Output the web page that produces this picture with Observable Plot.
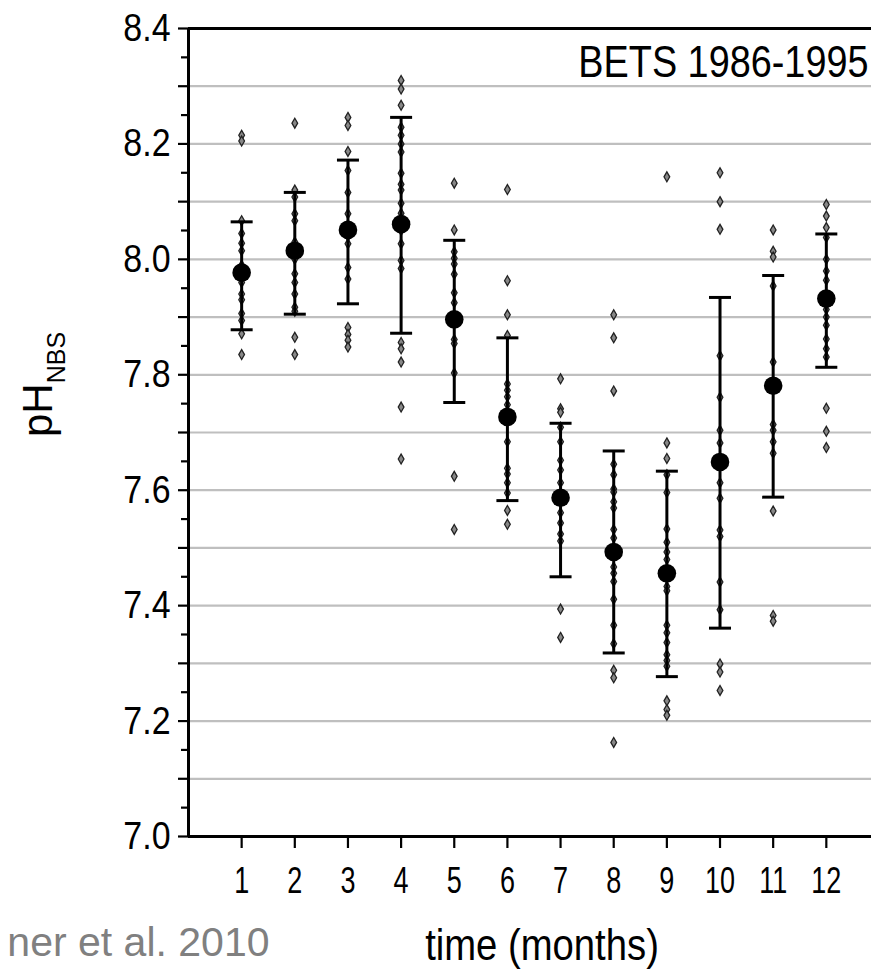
<!DOCTYPE html>
<html>
<head>
<meta charset="utf-8">
<script src="https://cdn.jsdelivr.net/npm/d3@7"></script>
<script src="https://cdn.jsdelivr.net/npm/@observablehq/plot@0.6"></script>
<style>
  html, body { margin: 0; padding: 0; background: #fff; }
  #chart svg { display: block; }
</style>
</head>
<body>
<div id="chart"></div>
<script>
// ---- data ----
const months = [1, 2, 3, 4, 5, 6, 7, 8, 9, 10, 11, 12];
const means = [7.977, 8.015, 8.051, 8.061, 7.896, 7.727, 7.587, 7.493, 7.456, 7.649, 7.781, 7.932];
const lows  = [7.878, 7.905, 7.923, 7.872, 7.752, 7.582, 7.450, 7.318, 7.277, 7.361, 7.588, 7.813];
const highs = [8.065, 8.116, 8.172, 8.246, 8.033, 7.864, 7.716, 7.668, 7.633, 7.934, 7.972, 8.044];

const pts1  = [8.215, 8.205, 8.067, 8.045, 8.028, 8.015, 7.99, 7.975, 7.96, 7.94, 7.93, 7.906, 7.894, 7.871, 7.835];
const pts2  = [8.236, 8.12, 8.108, 8.079, 8.067, 8.03, 8.0, 7.975, 7.96, 7.94, 7.917, 7.91, 7.865, 7.835];
const pts3  = [8.246, 8.232, 8.187, 8.154, 8.116, 8.079, 8.06, 8.04, 8.027, 7.986, 7.966, 7.882, 7.87, 7.86, 7.848];
const pts4  = [8.31, 8.295, 8.267, 8.229, 8.215, 8.2, 8.186, 8.149, 8.13, 8.12, 8.097, 8.08, 8.05, 8.027, 7.998, 7.984, 7.856, 7.845, 7.822, 7.744, 7.654];
const pts5  = [8.132, 8.051, 8.013, 8.002, 7.992, 7.974, 7.942, 7.925, 7.89, 7.861, 7.854, 7.803, 7.624, 7.532];
const pts6  = [8.121, 7.963, 7.904, 7.868, 7.784, 7.773, 7.762, 7.748, 7.72, 7.684, 7.638, 7.628, 7.613, 7.595, 7.565, 7.541];
const pts7  = [7.793, 7.741, 7.735, 7.709, 7.684, 7.652, 7.635, 7.613, 7.58, 7.561, 7.543, 7.524, 7.512, 7.394, 7.345];
const pts8  = [7.904, 7.864, 7.772, 7.645, 7.627, 7.602, 7.597, 7.58, 7.569, 7.532, 7.517, 7.49, 7.467, 7.456, 7.442, 7.411, 7.366, 7.334, 7.288, 7.275, 7.163];
const pts9  = [8.143, 7.682, 7.655, 7.627, 7.596, 7.533, 7.51, 7.493, 7.48, 7.45, 7.433, 7.426, 7.366, 7.353, 7.336, 7.315, 7.305, 7.295, 7.235, 7.22, 7.21];
const pts10 = [8.15, 8.1, 8.052, 7.833, 7.761, 7.704, 7.682, 7.65, 7.613, 7.586, 7.531, 7.52, 7.441, 7.393, 7.299, 7.285, 7.253];
const pts11 = [8.051, 8.014, 8.004, 7.954, 7.822, 7.78, 7.714, 7.704, 7.684, 7.664, 7.564, 7.383, 7.373];
const pts12 = [8.095, 8.075, 8.055, 8.038, 8.0, 7.98, 7.964, 7.93, 7.913, 7.9, 7.886, 7.862, 7.845, 7.831, 7.742, 7.702, 7.674];

const yLabelTicks = [7.0, 7.2, 7.4, 7.6, 7.8, 8.0, 8.2, 8.4];
const yMajorTicks = [7.0, 7.1, 7.2, 7.3, 7.4, 7.5, 7.6, 7.7, 7.8, 7.9, 8.0, 8.1, 8.2, 8.3, 8.4];
const yMinorTicks = [7.05, 7.15, 7.25, 7.35, 7.45, 7.55, 7.65, 7.75, 7.85, 7.95, 8.05, 8.15, 8.25, 8.35];
const yGrid = [7.1, 7.2, 7.3, 7.4, 7.5, 7.6, 7.7, 7.8, 7.9, 8.0, 8.1, 8.2, 8.3];

const titleText = "BETS 1986-1995";
const xTitle = "time (months)";
const captionText = "ner et al. 2010";

// ---- tables built from the arrays ----
const allPts = [pts1, pts2, pts3, pts4, pts5, pts6, pts7, pts8, pts9, pts10, pts11, pts12];
const points = allPts.flatMap((arr, i) => arr.map(v => ({month: months[i], pH: v})));
const stats = months.map((m, i) => ({month: m, mean: means[i], lo: lows[i], hi: highs[i]}));

const font = "'Liberation Sans', Arial, Helvetica, sans-serif";

const capSymbol = {
  draw(context, size) {
    const r = Math.sqrt(size / Math.PI);
    context.moveTo(-r, 0);
    context.lineTo(r, 0);
  }
};

const chart = Plot.plot({
  width: 871,
  height: 970,
  marginTop: 28,
  marginBottom: 134,
  marginLeft: 188,
  marginRight: 0,
  style: {fontFamily: font, background: "#fff", color: "#000", overflow: "visible"},
  x: {domain: [0, 12.85], axis: null},
  y: {domain: [7.0, 8.4], axis: null},
  marks: [
    Plot.gridY(yGrid, {stroke: "#bfbfbf", strokeOpacity: 1, strokeWidth: 2.2}),
    Plot.ruleY([8.4], {strokeWidth: 3}),
    Plot.ruleY([7.0], {strokeWidth: 3}),
    Plot.ruleX([0], {strokeWidth: 3}),
    Plot.axisY(yMajorTicks, {tickSize: 10, strokeWidth: 2.2, tickFormat: () => ""}),
    Plot.axisY(yMinorTicks, {tickSize: 7, strokeWidth: 2.2, tickFormat: () => ""}),
    Plot.axisY(yLabelTicks, {tickSize: 0, tickPadding: 18, fontSize: 39, tickFormat: d => d.toFixed(1), label: null}),
    Plot.axisX(months, {tickSize: 12, tickPadding: 19, strokeWidth: 2.2, fontSize: 36, label: null}),
    Plot.dot(points, {x: "month", y: "pH", symbol: "diamond", r: 3, stroke: "#222", fill: "#888", strokeWidth: 1.3}),
    Plot.ruleX(stats, {x: "month", y1: "lo", y2: "hi", strokeWidth: 3}),
    Plot.dot(stats, {x: "month", y: "lo", symbol: capSymbol, r: 11, stroke: "#000", strokeWidth: 3}),
    Plot.dot(stats, {x: "month", y: "hi", symbol: capSymbol, r: 11, stroke: "#000", strokeWidth: 3}),
    Plot.dot(stats, {x: "month", y: "mean", r: 9.3, fill: "#000"}),
    Plot.text([titleText], {frameAnchor: "top-right", textAnchor: "end", lineAnchor: "top", dx: -3, dy: 17, fontSize: 44, fill: "#000"}),
    Plot.text([xTitle], {frameAnchor: "bottom", lineAnchor: "top", dx: 12, dy: 92, fontSize: 45, fill: "#000"}),
    Plot.text([captionText], {frameAnchor: "bottom-left", textAnchor: "end", lineAnchor: "top", dx: 81, dy: 90, fontSize: 41, fill: "#808080"})
  ]
});

document.getElementById("chart").appendChild(chart);

const svg = d3.select(chart);

// the reference uses a condensed face: squeeze text horizontally about its anchor
function squeeze(sel, k) {
  sel.each(function () {
    const t = this.getAttribute("transform") || "";
    this.setAttribute("transform", t + ` scale(${k},1)`);
  });
}
squeeze(svg.selectAll('g[aria-label="y-axis tick label"] text'), 0.87);
squeeze(svg.selectAll('g[aria-label="x-axis tick label"] text'), 0.75);
squeeze(svg.selectAll("text").filter(function () { return this.textContent === titleText; }), 0.86);
squeeze(svg.selectAll("text").filter(function () { return this.textContent === xTitle; }), 0.85);

// y-axis label with subscript, as real text
const yl = svg.append("text")
  .attr("transform", "translate(52,437) rotate(-90)")
  .attr("text-anchor", "start")
  .attr("font-family", font)
  .attr("font-size", 42)
  .attr("fill", "#000");
yl.append("tspan").text("pH");
yl.append("tspan").attr("dy", 13).attr("font-size", 25).text("NBS");
</script>
</body>
</html>
